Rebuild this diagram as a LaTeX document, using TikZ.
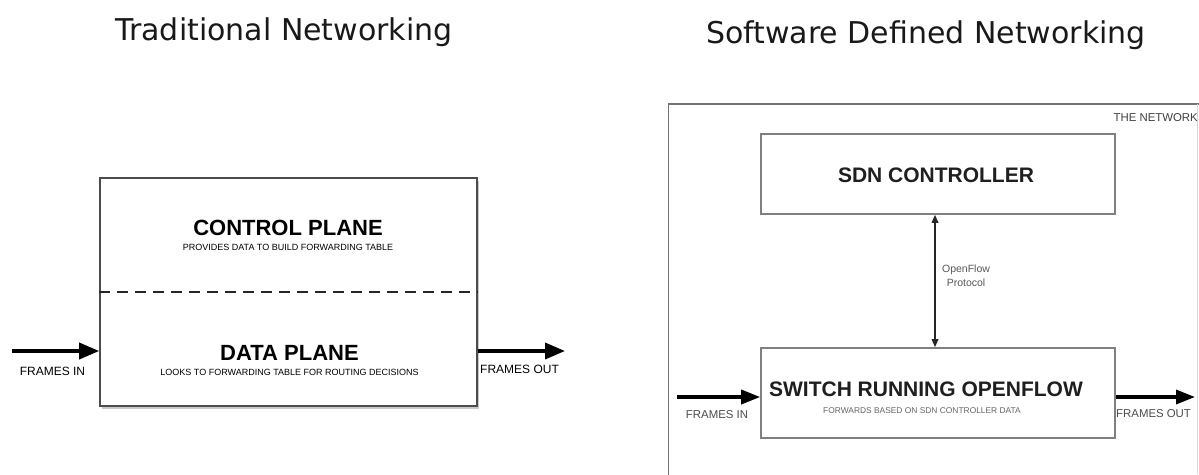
\documentclass[tikz,border=0pt]{standalone}
\usepackage{fontspec}
\setmainfont{Liberation Sans}
\newfontfamily\titlefont{DejaVu Sans}
\usetikzlibrary{arrows.meta,shadows}

\newcommand{\fs}[1]{\fontsize{#1}{#1}\selectfont}

\tikzset{
  heading/.style={font=\titlefont\fs{30}, text=black!90, anchor=base, inner sep=0pt},
  planebox/.style={draw=black!70, line width=1.6pt, fill=white,
    drop shadow={shadow xshift=2pt, shadow yshift=-2.5pt, opacity=0.35, fill=black!60}},
  sdnbox/.style={draw=black!50, line width=1.6pt, fill=white},
  bigtitle/.style={font=\bfseries\fs{22}, anchor=base, inner sep=0pt},
  sdntitle/.style={font=\bfseries\fs{21}, text=black!88, anchor=base, inner sep=0pt},
  smallnote/.style={font=\fs{9}, anchor=base, inner sep=0pt},
  framelabel/.style={font=\fs{12}, anchor=base, inner sep=0pt},
  sdnlabel/.style={font=\fs{11.4}, text=black!70, anchor=base, inner sep=0pt},
  flowarrow/.style={line width=3.6pt, -{Triangle[length=20pt,width=16pt]}},
  sdnflow/.style={line width=3.4pt, -{Triangle[length=19pt,width=14pt]}},
  protoarrow/.style={line width=1.6pt, black!85, {Triangle[length=8pt,width=6.5pt]}-{Triangle[length=8pt,width=6.5pt]}},
}

\begin{document}
\begin{tikzpicture}[x=1pt,y=-1pt]
  \useasboundingbox (0,0) rectangle (1199,474);
  \fill[white] (0,0) rectangle (1199,474);

  % ---------- headings ----------
  \node[heading] (hleft) at (284,40) {Traditional Networking};
  \node[heading] (hright) at (926,43) {Software Defined Networking};

  % ---------- traditional switch ----------
  \node[planebox, minimum width=377pt, minimum height=228pt, inner sep=0pt]
    (trad) at (288.5,292) {};
  \draw[black!85, line width=2pt, dash pattern=on 11pt off 7pt]
    (trad.west) -- (trad.east);

  \node[bigtitle] (cp) at (288,235) {CONTROL PLANE};
  \node[smallnote] (cpnote) at (288,250) {PROVIDES DATA TO BUILD FORWARDING TABLE};
  \node[bigtitle] (dp) at (289.5,360) {DATA PLANE};
  \node[smallnote] (dpnote) at (289.5,375) {LOOKS TO FORWARDING TABLE FOR ROUTING DECISIONS};

  \coordinate (tin) at (12,351);
  \coordinate (tout) at (565,351);
  \draw[flowarrow] (tin) -- (tin -| trad.west);
  \draw[flowarrow] (tin -| trad.east) -- (tout);
  \node[framelabel] (tinlbl) at (52.5,375) {FRAMES IN};
  \node[framelabel, anchor=base west] (toutlbl) at (480,373) {FRAMES OUT};

  % ---------- software defined network ----------
  \draw[black!55, line width=1.6pt] (668.5,480) -- (668.5,104) -- (1199,104);
  \draw[black!15, line width=1pt] (1197.5,104) -- (1197.5,474);
  \node[sdnlabel, anchor=base east, text=black!75] (netlbl) at (1198,121) {THE NETWORK};

  \node[sdnbox, minimum width=354pt, minimum height=80pt, inner sep=0pt]
    (ctrl) at (938,174) {};
  \node[sdntitle] (ctrltxt) at (936,182) {SDN CONTROLLER};

  \node[sdnbox, minimum width=354pt, minimum height=90pt, inner sep=0pt]
    (sw) at (938,393) {};
  \node[sdntitle] (swtxt) at (926,396) {SWITCH RUNNING OPENFLOW};
  \node[font=\fs{8.4}, text=black!60, anchor=base, inner sep=0pt]
    (swnote) at (922,413) {FORWARDS BASED ON SDN CONTROLLER DATA};

  \coordinate (ptop) at ([xshift=-3pt]ctrl.south);
  \draw[protoarrow] (ptop) -- (ptop |- sw.north);
  \node[font=\fs{10.5}, text=black!65, align=center, inner sep=0pt]
    (proto) at (966,276) {OpenFlow\\[3.5pt]Protocol};

  \coordinate (sin) at (677,397);
  \coordinate (sout) at (1195,397);
  \draw[sdnflow] (sin) -- (sin -| sw.west);
  \draw[sdnflow] (sin -| sw.east) -- (sout);
  \node[sdnlabel] (sinlbl) at (717,418) {FRAMES IN};
  \node[sdnlabel, anchor=base west] (soutlbl) at (1116,417) {FRAMES OUT};
\end{tikzpicture}
\end{document}
